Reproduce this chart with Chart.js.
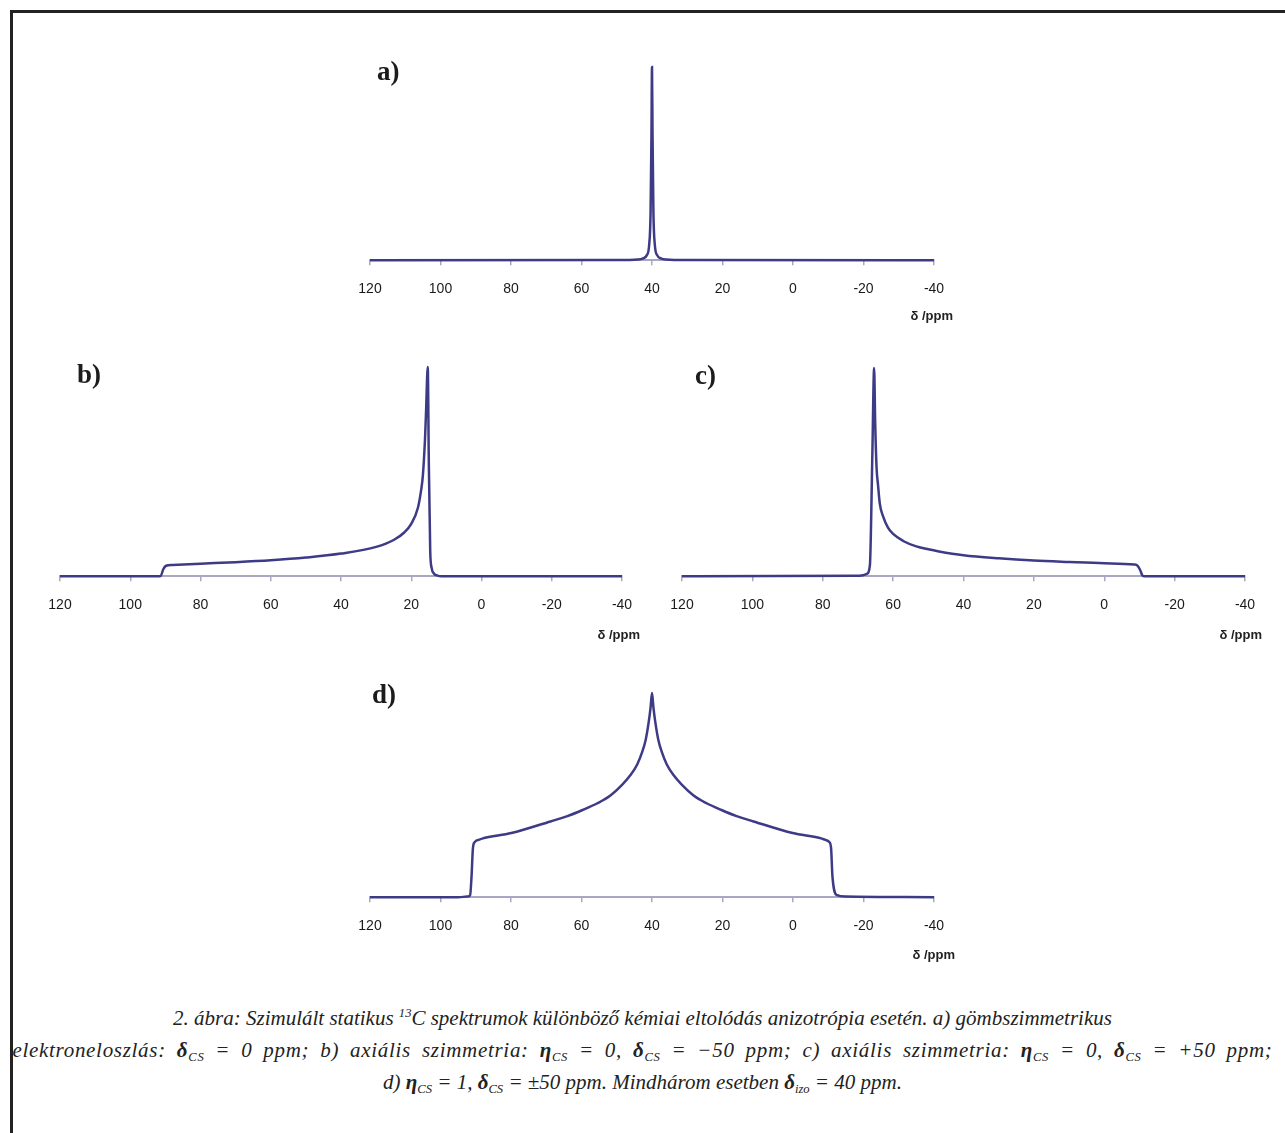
<!DOCTYPE html>
<html lang="hu">
<head>
<meta charset="UTF-8">
<title>Szimulált statikus 13C spektrumok</title>
<script src="https://cdn.jsdelivr.net/npm/chart.js@4.4.3/dist/chart.umd.min.js"></script>
<style>
  html, body { margin: 0; padding: 0; background: #fff; }
  #page { position: relative; width: 1285px; height: 1133px; overflow: hidden; background: #fff; }
  /* only the top and left edge of the frame are inside the picture */
  #frame { position: absolute; left: 10px; top: 10px; width: 1300px; height: 1150px;
           border-left: 3px solid #222; border-top: 3px solid #222; }
  canvas { position: absolute; }
  .panel-label { position: absolute; font: bold 27px/28px "Liberation Serif", "Times New Roman", serif; color: #1c1c1c; }
  .axis-unit { position: absolute; font: bold 13px/16px "Liberation Sans", Arial, sans-serif; color: #222; white-space: nowrap; }
  #caption { position: absolute; left: 0; top: 1002px; width: 1285px; text-align: center;
             font: italic 21px/32px "Liberation Serif", "Times New Roman", serif; color: #222; white-space: nowrap; }
  #caption .wide { letter-spacing: 0.7px; word-spacing: 5px; }
  #caption sub { font-size: 0.6em; vertical-align: -0.3em; line-height: 0; }
  #caption sup { font-size: 0.6em; vertical-align: 0.6em; line-height: 0; }
  #caption b { font-weight: bold; }
</style>
</head>
<body>
<div id="page">
  <div id="frame"></div>

  <canvas id="chart-a"></canvas>
  <canvas id="chart-b"></canvas>
  <canvas id="chart-c"></canvas>
  <canvas id="chart-d"></canvas>

  <div class="panel-label" style="left:377px; top:57px;">a)</div>
  <div class="panel-label" style="left:77px; top:360px;">b)</div>
  <div class="panel-label" style="left:695px; top:361px;">c)</div>
  <div class="panel-label" style="left:372px; top:680px;">d)</div>

  <div class="axis-unit" style="right:332px; top:308px;">δ /ppm</div>
  <div class="axis-unit" style="right:645px; top:627px;">δ /ppm</div>
  <div class="axis-unit" style="right:23px; top:627px;">δ /ppm</div>
  <div class="axis-unit" style="right:330px; top:947px;">δ /ppm</div>

  <div id="caption">
    2. ábra: Szimulált statikus <sup>13</sup>C spektrumok különböző kémiai eltolódás anizotrópia esetén. a) gömbszimmetrikus<br>
    <span class="wide">elektroneloszlás: <b>δ</b><sub>CS</sub> = 0 ppm; b) axiális szimmetria: <b>η</b><sub>CS</sub> = 0, <b>δ</b><sub>CS</sub> = −50 ppm; c) axiális szimmetria: <b>η</b><sub>CS</sub> = 0, <b>δ</b><sub>CS</sub> = +50 ppm;</span><br>
    d) <b>η</b><sub>CS</sub> = 1, <b>δ</b><sub>CS</sub> = ±50 ppm. Mindhárom esetben <b>δ</b><sub>izo</sub> = 40 ppm.
  </div>
</div>

<script>
// x axis: chemical shift in ppm (drawn reversed, 120 on the left)
const shiftMin = -40;
const shiftMax = 120;
const shiftStep = 20;

// a) isotropic line at 40 ppm (intensity relative to the peak = 100)
const ppmA = [120, 50, 44, 42.5, 41.5, 40.8, 40.4, 40.15, 40, 39.85, 39.6, 39.2, 38.5, 37.5, 36, 30, -40];
const intA = [0, 0.1, 0.4, 1, 2.5, 8, 25, 65, 100, 65, 25, 8, 2.5, 1, 0.4, 0.1, 0];

// b) axial powder pattern, step at ~90 ppm, horn at ~15 ppm
const ppmB = [120, 92, 91.3, 90.6, 89.8, 88, 80, 70, 60, 50, 40, 30, 25, 22, 20, 18.1, 17.2, 16.7, 16.1, 15.8, 15.3, 15.0, 14.6, 14.2, 13.5, 12.5, 11.5, -40];
const intB = [0, 0, 0.2, 3.3, 5.0, 5.4, 6.0, 6.7, 7.6, 8.9, 10.8, 14.0, 17.3, 20.9, 25, 32.7, 41, 48, 65, 78, 100, 55, 12, 4, 1.2, 0.3, 0, 0];

// c) axial powder pattern, horn at ~65 ppm, step at ~-10 ppm
const ppmC = [120, 70, 68.5, 67.5, 66.6, 65.9, 65.4, 65.1, 64.7, 64.3, 63.8, 62.8, 61.5, 60, 57, 53.4, 50, 47, 40, 30, 20, 10, 0, -8.5, -9.5, -10.2, -10.8, -11.5, -40];
const intC = [0, 0.2, 0.5, 1.1, 5.2, 58.8, 100, 74, 52, 44, 35, 28.5, 23.5, 20.3, 16.8, 14.3, 12.9, 11.9, 10.1, 8.6, 7.5, 6.8, 6.2, 5.6, 5.0, 3.0, 0.5, 0, 0];

// d) eta = 1 pattern, edges at ~90 and ~-10 ppm, cusp at 40 ppm
const ppmD = [120, 95, 92.5, 91.6, 91.2, 90.8, 90.3, 89, 88.2, 79.9, 68.8, 64, 59.7, 55.5, 51.8, 48.5, 46.1, 44.2, 42.8, 41.8, 40.96, 40.4, 40,
              39.6, 39.04, 38.2, 37.2, 35.8, 33.9, 31.5, 28.2, 24.5, 20.3, 16, 11.2, 0.1, -8.2, -9, -10.3, -10.8, -11.2, -12.5, -15, -40];
const intD = [0, 0, 0.3, 1, 10, 24, 27, 28.2, 28.7, 31.4, 37.1, 39.7, 42.7, 46, 49.8, 55, 59.8, 65, 71, 77, 85.5, 93, 100,
              93, 85.5, 77, 71, 65, 59.8, 55, 49.8, 46, 42.7, 39.7, 37.1, 31.4, 28.7, 28.2, 27, 24, 10, 1, 0.3, 0];

const lineColor = '#3d3a86';
const axisColor = '#a9a7c2';

// where each plot area sits on the page: left = 120 ppm, right = -40 ppm, axis line, top of the peak
const panels = [
    { id: 'chart-a', ppm: ppmA, val: intA, left: 370, right: 934, axisY: 262, peakY: 67 },
    { id: 'chart-b', ppm: ppmB, val: intB, left: 60, right: 622, axisY: 578, peakY: 367 },
    { id: 'chart-c', ppm: ppmC, val: intC, left: 682, right: 1245, axisY: 578, peakY: 368 },
    { id: 'chart-d', ppm: ppmD, val: intD, left: 370, right: 934, axisY: 899, peakY: 693 }
];

const padSide = 30, padTop = 10, padBottom = 4;
const axisBox = 52; // height Chart.js gives the x axis (ticks + padding + labels)

function drawPanel(p) {
    const canvas = document.getElementById(p.id);
    const w = p.right - p.left + 2 * padSide;
    const h = padTop + (p.axisY - p.peakY) + axisBox + padBottom;
    canvas.width = w;
    canvas.height = h;
    canvas.style.left = (p.left - padSide) + 'px';
    canvas.style.top = (p.peakY - padTop) + 'px';
    canvas.style.width = w + 'px';
    canvas.style.height = h + 'px';

    const points = p.ppm.map((x, i) => ({ x: x, y: p.val[i] }));

    new Chart(canvas, {
        type: 'line',
        data: {
            datasets: [{
                data: points,
                borderColor: lineColor,
                borderWidth: 2.5,
                pointRadius: 0,
                fill: false,
                cubicInterpolationMode: 'monotone',
                clip: false
            }]
        },
        options: {
            responsive: false,
            animation: false,
            devicePixelRatio: 1,
            layout: { padding: { left: padSide, right: padSide, top: padTop, bottom: padBottom } },
            plugins: { legend: { display: false }, tooltip: { enabled: false }, title: { display: false } },
            scales: {
                x: {
                    type: 'linear',
                    reverse: true,
                    min: shiftMin,
                    max: shiftMax,
                    grid: { display: true, drawOnChartArea: false, drawTicks: true, tickLength: 5, color: axisColor, lineWidth: 1.5 },
                    border: { display: true, color: axisColor, width: 2 },
                    ticks: {
                        stepSize: shiftStep,
                        autoSkip: false,
                        maxRotation: 0,
                        padding: 16,
                        color: '#1a1a1a',
                        font: { family: '"Liberation Sans", Arial, sans-serif', size: 14 }
                    }
                },
                y: { display: false, min: 0, max: 100 }
            }
        }
    });
}

panels.forEach(drawPanel);
</script>
</body>
</html>
